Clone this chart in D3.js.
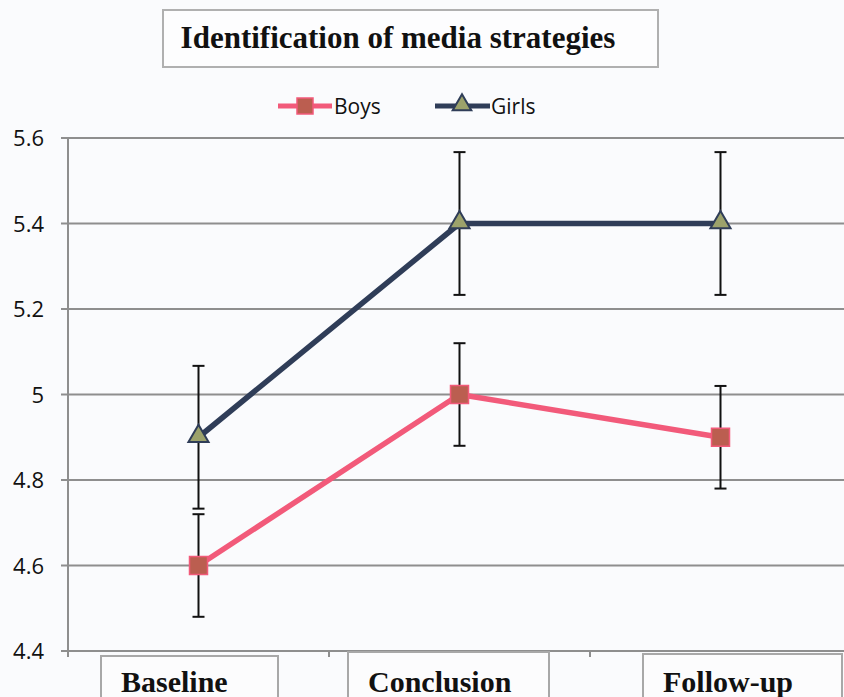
<!DOCTYPE html>
<html>
<head>
<meta charset="utf-8">
<script src="https://cdn.jsdelivr.net/npm/d3@7"></script>
<style>
  html, body { margin: 0; padding: 0; background: #fafbfd; }
  svg { display: block; }
</style>
</head>
<body>
<div id="chart"></div>
<script>
// Mean scores by assessment point, with error bar half-widths
const categories = ["Baseline", "Conclusion", "Follow-up"];
const boysValues = [4.6, 5.0, 4.9];
const boysErrors = [0.12, 0.12, 0.12];
const girlsValues = [4.9, 5.4, 5.4];
const girlsErrors = [0.167, 0.167, 0.167];
const yTicks = [4.4, 4.6, 4.8, 5.0, 5.2, 5.4, 5.6];
const yTickLabels = ["4.4", "4.6", "4.8", "5", "5.2", "5.4", "5.6"];
const titleText = "Identification of media strategies";
const seriesNames = ["Boys", "Girls"];

const W = 844, H = 697;
const svg = d3.select("#chart").append("svg")
  .attr("width", W).attr("height", H);

svg.append("rect").attr("width", W).attr("height", H).attr("fill", "#fafbfd");

const plotLeft = 68, plotRight = 851, plotTop = 138, plotBottom = 651;

const x = d3.scaleBand().domain(categories).range([plotLeft, plotRight]);
const y = d3.scaleLinear().domain([4.4, 5.6]).range([plotBottom, plotTop]);

const gridColor = "#8e8e8e";
const serif = "'Liberation Serif', 'Times New Roman', serif";
const sans = "'Open Sans', 'Liberation Sans', sans-serif";

// horizontal gridlines with short outer ticks
svg.append("g").selectAll("line").data(yTicks).join("line")
  .attr("x1", plotLeft - 7).attr("x2", W)
  .attr("y1", d => y(d)).attr("y2", d => y(d))
  .attr("stroke", gridColor).attr("stroke-width", 2);

// y axis line
svg.append("line")
  .attr("x1", plotLeft).attr("x2", plotLeft)
  .attr("y1", plotTop).attr("y2", plotBottom + 6)
  .attr("stroke", gridColor).attr("stroke-width", 2);

// category boundary ticks on the x axis
svg.append("g").selectAll("line").data(categories.slice(1)).join("line")
  .attr("x1", d => x(d)).attr("x2", d => x(d))
  .attr("y1", plotBottom).attr("y2", plotBottom + 6)
  .attr("stroke", gridColor).attr("stroke-width", 2);

// y tick labels
svg.append("g").selectAll("text").data(yTicks).join("text")
  .attr("x", 44).attr("y", d => y(d) + 8)
  .attr("text-anchor", "end")
  .attr("font-family", sans)
  .attr("font-size", 22)
  .attr("fill", "#111")
  .text((d, i) => yTickLabels[i]);

// category label boxes
const catBoxes = [
  { left: 101, right: 278, top: 656 },
  { left: 348, right: 549, top: 652 },
  { left: 643, right: 842, top: 654 }
];
const catG = svg.append("g");
categories.forEach((c, i) => {
  const b = catBoxes[i];
  catG.append("rect")
    .attr("x", b.left).attr("y", b.top)
    .attr("width", b.right - b.left).attr("height", 80)
    .attr("fill", "#fcfcfd").attr("stroke", "#a8a8a8").attr("stroke-width", 2);
  catG.append("text")
    .attr("x", b.left + 20).attr("y", 692)
    .attr("font-family", serif)
    .attr("font-weight", "bold").attr("font-size", 30)
    .attr("fill", "#111")
    .text(c);
});

const cx = d => x(d) + x.bandwidth() / 2;

const boys = categories.map((c, i) => ({ c, v: boysValues[i], e: boysErrors[i] }));
const girls = categories.map((c, i) => ({ c, v: girlsValues[i], e: girlsErrors[i] }));

const line = d3.line().x(d => cx(d.c)).y(d => y(d.v));

// series lines
svg.append("path").datum(girls).attr("d", line)
  .attr("fill", "none").attr("stroke", "#2f3d58").attr("stroke-width", 5.5)
  .attr("stroke-linejoin", "round");
svg.append("path").datum(boys).attr("d", line)
  .attr("fill", "none").attr("stroke", "#f25a7a").attr("stroke-width", 5.5)
  .attr("stroke-linejoin", "round");

// error bars
function errorBars(data) {
  const g = svg.append("g").attr("stroke", "#111").attr("stroke-width", 2);
  data.forEach(d => {
    const px = cx(d.c);
    g.append("line").attr("x1", px).attr("x2", px)
      .attr("y1", y(d.v + d.e)).attr("y2", y(d.v - d.e));
    [d.v + d.e, d.v - d.e].forEach(v => {
      g.append("line").attr("x1", px - 6).attr("x2", px + 6)
        .attr("y1", y(v)).attr("y2", y(v));
    });
  });
}
errorBars(girls);
errorBars(boys);

// markers
const tri = d3.symbol().type(d3.symbolTriangle).size(175);
svg.append("g").selectAll("path").data(girls).join("path")
  .attr("transform", d => `translate(${cx(d.c)},${y(d.v) - 1})`)
  .attr("d", tri)
  .attr("fill", "#9ca26b").attr("stroke", "#2f3d58").attr("stroke-width", 2);

svg.append("g").selectAll("rect").data(boys).join("rect")
  .attr("x", d => cx(d.c) - 9).attr("y", d => y(d.v) - 9)
  .attr("width", 18).attr("height", 18)
  .attr("fill", "#bb5e50").attr("stroke", "#f25a7a").attr("stroke-width", 1.5);

// title box
svg.append("rect")
  .attr("x", 163).attr("y", 10).attr("width", 495).attr("height", 57)
  .attr("fill", "#fdfdfe").attr("stroke", "#b0b0b0").attr("stroke-width", 2);
svg.append("text")
  .attr("x", 398).attr("y", 48)
  .attr("text-anchor", "middle")
  .attr("font-family", serif)
  .attr("font-weight", "bold").attr("font-size", 31)
  .attr("fill", "#111")
  .text(titleText);

// legend
const legend = svg.append("g")
  .attr("font-family", sans)
  .attr("font-size", 21).attr("fill", "#111");
const lgBoys = legend.append("g").attr("transform", "translate(278,106)");
lgBoys.append("line").attr("x1", 0).attr("x2", 54).attr("y1", 0).attr("y2", 0)
  .attr("stroke", "#f25a7a").attr("stroke-width", 5);
lgBoys.append("rect").attr("x", 19).attr("y", -8).attr("width", 16).attr("height", 16)
  .attr("fill", "#bb5e50").attr("stroke", "#f25a7a").attr("stroke-width", 1.5);
lgBoys.append("text").attr("x", 56).attr("y", 8).text(seriesNames[0]);

const lgGirls = legend.append("g").attr("transform", "translate(435,106)");
lgGirls.append("line").attr("x1", 0).attr("x2", 55).attr("y1", 0).attr("y2", 0)
  .attr("stroke", "#2f3d58").attr("stroke-width", 5);
lgGirls.append("path").attr("transform", "translate(27,-1)")
  .attr("d", d3.symbol().type(d3.symbolTriangle).size(150))
  .attr("fill", "#9ca26b").attr("stroke", "#2f3d58").attr("stroke-width", 2);
lgGirls.append("text").attr("x", 56).attr("y", 8).text(seriesNames[1]);
</script>
</body>
</html>
